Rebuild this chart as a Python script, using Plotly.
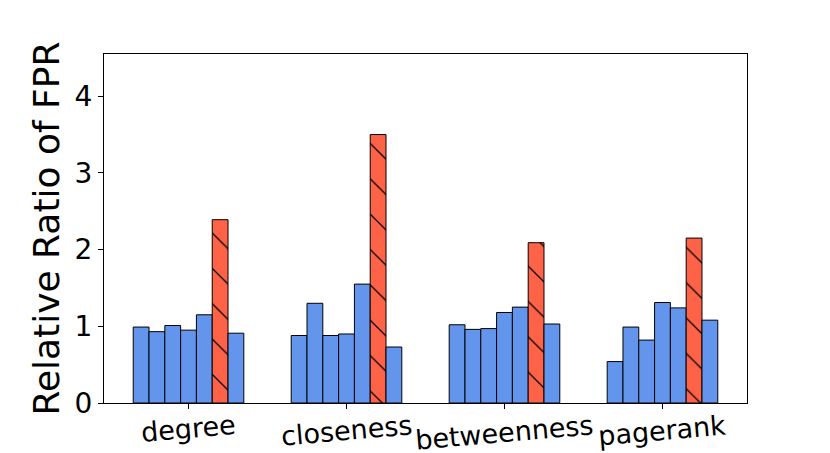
import plotly.graph_objects as go

categories = ["degree", "closeness", "betweenness", "pagerank"]
series_names = ["method 1", "method 2", "method 3", "method 4", "method 5", "method 6", "method 7"]
# values[series][category]
values = [
    [0.99, 0.88, 1.02, 0.54],
    [0.93, 1.30, 0.96, 0.99],
    [1.01, 0.88, 0.97, 0.82],
    [0.95, 0.90, 1.18, 1.31],
    [1.15, 1.55, 1.25, 1.24],
    [2.39, 3.50, 2.09, 2.15],
    [0.91, 0.73, 1.03, 1.08],
]
y_ticks = [0, 1, 2, 3, 4]

BLUE = "#6495ED"
RED = "#FF6347"
highlight = 5

fig = go.Figure()
for j, (name, vals) in enumerate(zip(series_names, values)):
    if j == highlight:
        marker = dict(color=RED, line=dict(color="black", width=1),
                      pattern=dict(shape="\\", size=25, solidity=0.05,
                                   fillmode="replace", bgcolor=RED, fgcolor="black"))
    else:
        marker = dict(color=BLUE, line=dict(color="black", width=1))
    fig.add_trace(go.Bar(x=categories, y=vals, name=name, marker=marker, showlegend=False))

ymax = max(max(v) for v in values) * 1.3

# rotated category labels, centred under their ticks
for cat in categories:
    fig.add_annotation(x=cat, xref="x", y=-0.012, yref="paper", text=cat,
                       showarrow=False, textangle=-5, xanchor="center", yanchor="top",
                       font=dict(size=27, family="DejaVu Sans", color="black"))

fig.update_layout(
    width=822, height=445,
    margin=dict(l=96, r=83, t=46, b=50),
    barmode="group", bargap=0.3, bargroupgap=0,
    plot_bgcolor="white", paper_bgcolor="white",
    font=dict(family="DejaVu Sans", color="black"),
)
fig.update_xaxes(
    range=[-0.535, 3.535], showline=True, linecolor="black", linewidth=1, mirror=True,
    ticks="outside", ticklen=5, tickcolor="black", showticklabels=False,
    showgrid=False, automargin=False,
)
fig.update_yaxes(
    range=[0, ymax], tickvals=y_ticks, showline=True, linecolor="black", linewidth=1, mirror=True,
    ticks="outside", ticklen=5, tickcolor="black", tickfont=dict(size=28), showgrid=False,
    zeroline=False, automargin=False,
    title=dict(text="Relative Ratio of FPR", font=dict(size=36), standoff=3),
)
fig.write_html("out.html")
